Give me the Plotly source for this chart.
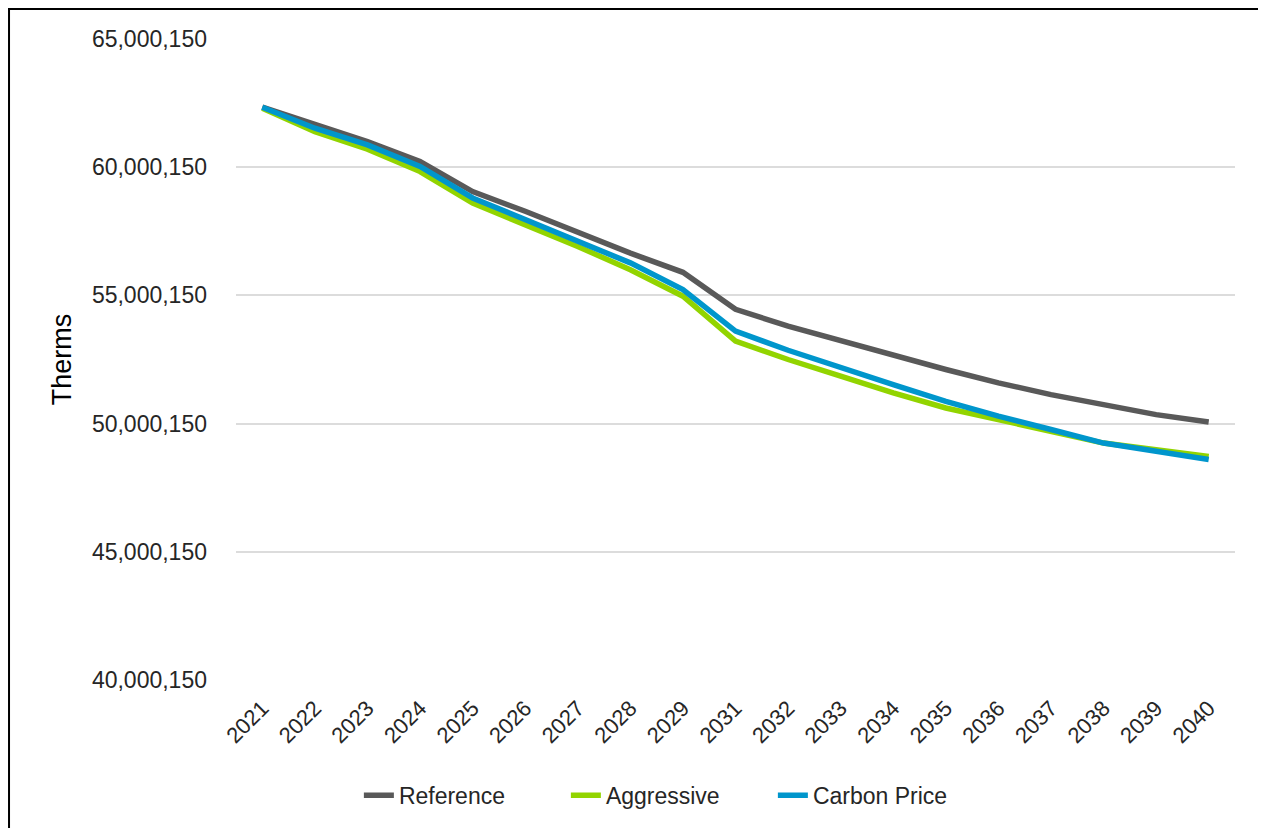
import plotly.graph_objects as go

years = ["2021", "2022", "2023", "2024", "2025", "2026", "2027", "2028", "2029",
         "2031", "2032", "2033", "2034", "2035", "2036", "2037", "2038", "2039", "2040"]

reference = [62.34, 61.65, 61.00, 60.22, 59.05, 58.28, 57.46, 56.65, 55.90,
             54.46, 53.80, 53.22, 52.66, 52.11, 51.59, 51.13, 50.74, 50.35, 50.06]
aggressive = [62.30, 61.39, 60.70, 59.83, 58.60, 57.76, 56.91, 56.00, 54.97,
              53.22, 52.50, 51.85, 51.20, 50.61, 50.16, 49.70, 49.24, 48.98, 48.72]
carbon_price = [62.34, 61.52, 60.87, 60.03, 58.80, 57.95, 57.11, 56.27, 55.23,
                53.61, 52.86, 52.17, 51.52, 50.87, 50.29, 49.77, 49.24, 48.92, 48.60]

# values above are in millions of therms (offset so ticks land on x,xxx,150)
scale = 1_000_000
offset = 150
y_ticks = [40_000_150, 45_000_150, 50_000_150, 55_000_150, 60_000_150, 65_000_150]
y_tick_text = [f"{v:,}" for v in y_ticks]

series = [
    ("Reference", reference, "#595959"),
    ("Aggressive", aggressive, "#92D400"),
    ("Carbon Price", carbon_price, "#0096CC"),
]

fig = go.Figure()
for name, vals, color in series:
    fig.add_trace(go.Scatter(
        x=years,
        y=[v * scale + offset for v in vals],
        mode="lines",
        name=name,
        line=dict(color=color, width=5.5),
    ))

font_family = "Liberation Sans, Arial, sans-serif"
text_color = "#262626"

fig.update_layout(
    width=1258, height=820,
    margin=dict(l=228, r=31, t=31, b=147),
    paper_bgcolor="white",
    plot_bgcolor="white",
    font=dict(family=font_family, color=text_color),
    showlegend=True,
    legend=dict(
        orientation="h",
        x=0.123, xanchor="left",
        y=-0.178, yanchor="middle",
        font=dict(size=23, color=text_color),
        entrywidth=162,
        entrywidthmode="pixels",
        bgcolor="rgba(0,0,0,0)",
    ),
    xaxis=dict(
        type="category",
        range=[-0.5, len(years) - 0.5],
        tickangle=-45,
        tickfont=dict(size=22, color=text_color),
        ticklabelstandoff=10,
        showgrid=False,
        showline=False,
        zeroline=False,
        ticks="",
    ),
    yaxis=dict(
        range=[y_ticks[0], y_ticks[-1]],
        tickvals=y_ticks,
        ticktext=y_tick_text,
        tickfont=dict(size=23, color=text_color),
        ticklabelstandoff=28,
        showgrid=True,
        gridcolor="#DCDCDC",
        gridwidth=2,
        zeroline=False,
        showline=False,
        ticks="",
        title=dict(text="Therms", font=dict(size=27, color="#000000"), standoff=12),
    ),
    shapes=[
        dict(type="rect", xref="paper", yref="paper",
             x0=-0.2272, x1=1.029, y0=-0.25, y1=1.0467,
             line=dict(color="#000000", width=2), fillcolor="rgba(0,0,0,0)", layer="below"),
    ],
)

fig.write_html("out.html")
